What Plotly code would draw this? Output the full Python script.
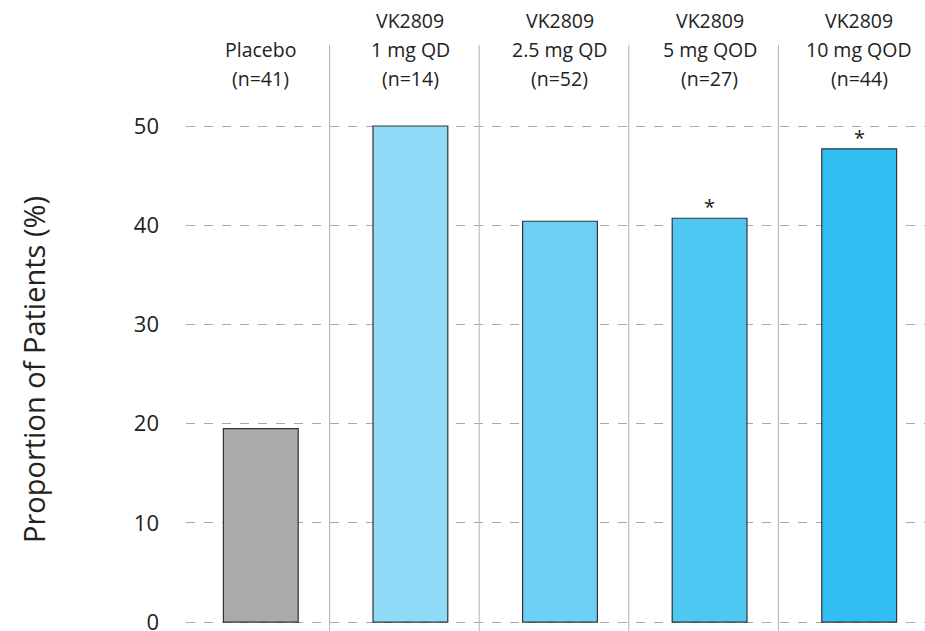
import plotly.graph_objects as go

# Treatment groups, responder proportions and group sizes
drug = ["", "VK2809", "VK2809", "VK2809", "VK2809"]
doses = ["Placebo", "1 mg QD", "2.5 mg QD", "5 mg QOD", "10 mg QOD"]
group_n = [41, 14, 52, 27, 44]
proportions = [19.5, 50.0, 40.4, 40.7, 47.7]
significant = [False, False, False, True, True]
bar_colors = ["#aaaaaa", "#8fdaf7", "#6dd0f5", "#4ec7f2", "#31bef1"]
y_ticks = [0, 10, 20, 30, 40, 50]

x_pos = list(range(len(doses)))
FONT = "Open Sans, Noto Sans, sans-serif"
TXT = "#222222"
W, H = 925, 631

fig = go.Figure()
fig.add_trace(go.Bar(
    x=x_pos,
    y=proportions,
    width=0.5,
    marker=dict(color=bar_colors, line=dict(color="#333333", width=1.2)),
    hoverinfo="skip",
))

# Group headers above the plot, one annotation per line
for i, (d, g, n) in enumerate(zip(drug, doses, group_n)):
    lines = [t for t in (d, g, f"(n={n})") if t]
    for k, t in enumerate(reversed(lines)):
        fig.add_annotation(
            x=i, y=1 - 78 / H, xref="x", yref="paper",
            yshift=29 * k,
            text=t, showarrow=False, yanchor="middle", xanchor="center",
            font=dict(family=FONT, size=19.5, color=TXT),
        )

# Significance markers
for i, (v, s) in enumerate(zip(proportions, significant)):
    if s:
        fig.add_annotation(
            x=i, y=v, xref="x", yref="y",
            text="*", showarrow=False, yanchor="bottom", yshift=-4,
            font=dict(family=FONT, size=20, color=TXT),
        )

# Vertical separators between groups
for i in range(len(doses) - 1):
    fig.add_shape(
        type="line", xref="x", yref="paper",
        x0=i + 0.46, x1=i + 0.46, y0=0, y1=0.929,
        line=dict(color="#b0b0b0", width=1),
    )

# Y-axis title
fig.add_annotation(
    x=0, y=0, xref="paper", yref="paper",
    xshift=33 - 186, yshift=H - 370 - 0,
    text="Proportion of Patients (%)", textangle=-90,
    showarrow=False, xanchor="center", yanchor="middle",
    font=dict(family=FONT, size=29, color=TXT),
)

fig.update_layout(
    width=W, height=H,
    margin=dict(l=186, r=0, t=0, b=0, autoexpand=False),
    plot_bgcolor="white", paper_bgcolor="white",
    showlegend=False,
    xaxis=dict(
        range=[-0.5, 4.44], showticklabels=False, showgrid=False,
        zeroline=False, showline=False, ticks="", automargin=False,
    ),
    yaxis=dict(
        range=[-0.9, 62.7], tickvals=y_ticks,
        showgrid=True, gridcolor="#a8a8a8", griddash="dash", gridwidth=1,
        zeroline=False, showline=False, ticks="", automargin=False,
        ticklabelstandoff=26, ticklabeloverflow="allow",
        tickfont=dict(family=FONT, size=22, color=TXT),
    ),
    bargap=0.5,
)

fig.write_html("out.html")
